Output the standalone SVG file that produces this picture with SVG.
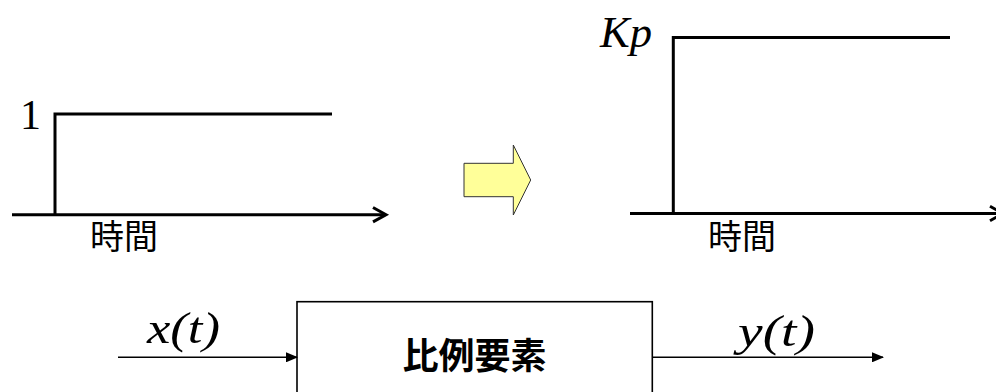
<svg xmlns="http://www.w3.org/2000/svg" width="996" height="392" viewBox="0 0 996 392">
  <style>
    .plot { fill: none; stroke: #000; stroke-width: 3; stroke-linecap: butt; stroke-linejoin: miter; }
    .chev { fill: none; stroke: #000; stroke-width: 3; stroke-linejoin: miter; }
    .wire { fill: none; stroke: #000; stroke-width: 1.6; }
    .box { fill: #fff; stroke: #000; stroke-width: 1.6; }
    .num { font-family: "Liberation Serif", "DejaVu Serif", serif; fill: #000; }
    .ital { font-family: "Liberation Serif", "DejaVu Serif", serif; font-style: italic; fill: #000; }
    .jp { font-family: "Noto Sans CJK JP", "Noto Sans", sans-serif; fill: #000; }
  </style>
  <defs>
    <marker id="solid" markerWidth="12" markerHeight="10" refX="11" refY="5" orient="auto" markerUnits="userSpaceOnUse">
      <path d="M0,0 L12,5 L0,10 Z" fill="#000"/>
    </marker>
  </defs>

  <!-- unit step input -->
  <g id="step-input">
    <path class="plot" d="M12,214.7 H385"/>
    <path class="chev" d="M373,207.5 L386,214.7 L373,221.9"/>
    <path class="plot" d="M55,214.7 V114 H332"/>
    <text class="num" x="20" y="129" font-size="42">1</text>
    <text class="jp" x="90" y="249" font-size="34">時間</text>
  </g>

  <!-- transition arrow -->
  <g id="transition">
    <path d="M464,163.3 H513.3 V145 L530.7,180 L513.3,215 V196.7 H464 Z" fill="#FFFF99" stroke="#333" stroke-width="1"/>
  </g>

  <!-- proportional step response -->
  <g id="step-output">
    <path class="plot" d="M630,213.5 H1002"/>
    <path class="chev" d="M990,206.3 L1003,213.5 L990,220.7"/>
    <path class="plot" d="M673.3,213.5 V37.5 H950"/>
    <text class="ital" x="600" y="47" font-size="44" textLength="52" lengthAdjust="spacingAndGlyphs">Kp</text>
    <text class="jp" x="708" y="249" font-size="34">時間</text>
  </g>

  <!-- proportional element block -->
  <g id="block">
    <rect class="box" x="297" y="301.7" width="355.3" height="100"/>
    <text class="jp" x="474.5" y="369" font-size="36" font-weight="bold" text-anchor="middle">比例要素</text>
  </g>

  <g id="connectors">
    <path class="wire" d="M118,357.3 H297" marker-end="url(#solid)"/>
    <path class="wire" d="M652.3,357.3 H883" marker-end="url(#solid)"/>
  </g>

  <g id="signal-labels">
    <text class="ital" x="147" y="343" font-size="44" textLength="73" lengthAdjust="spacingAndGlyphs">x(t)</text>
    <text class="ital" x="738" y="346" font-size="44" textLength="77" lengthAdjust="spacingAndGlyphs">y(t)</text>
  </g>
</svg>
